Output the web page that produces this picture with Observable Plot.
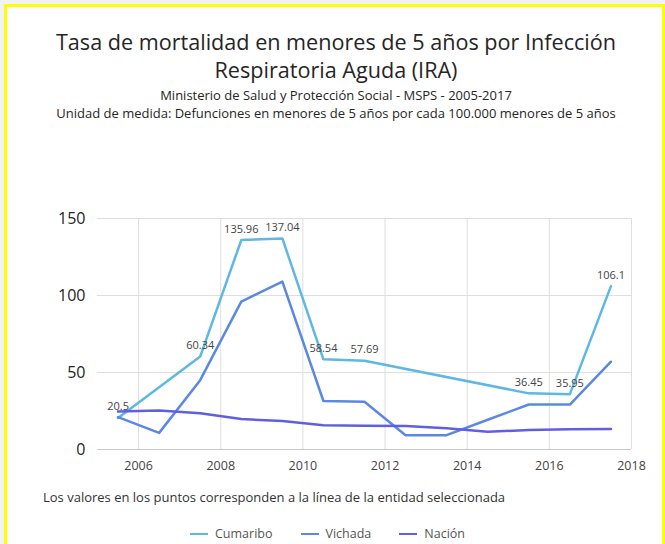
<!DOCTYPE html>
<html>
<head>
<meta charset="utf-8">
<script src="https://cdn.jsdelivr.net/npm/d3@7"></script>
<script src="https://cdn.jsdelivr.net/npm/@observablehq/plot@0.6"></script>
<style>
  html, body { margin: 0; padding: 0; width: 665px; height: 544px; overflow: hidden; background: #f2f2f2; font-family: "Open Sans", "Noto Sans", sans-serif; }
  #frame { position: absolute; left: 4px; top: 4px; width: 661px; height: 600px; box-sizing: border-box; border: 3px solid #ffff00; border-bottom: none; background: #fff; }
  .t { position: absolute; left: 0; width: 672px; text-align: center; color: #252525; white-space: nowrap; }
  #title1 { top: 27px; font-size: 21.6px; }
  #title2 { top: 55px; font-size: 21.6px; }
  #sub1 { top: 86px; font-size: 13px; }
  #sub2 { top: 104px; font-size: 13px; }
  #note { position: absolute; left: 43px; top: 488px; font-size: 13px; color: #333; white-space: nowrap; }
  #legend { position: absolute; left: 0; width: 655px; top: 525px; display: flex; justify-content: center; gap: 28px; font-size: 12.5px; color: #555; }
  #legend .item { display: flex; align-items: center; gap: 7px; }
  #legend .sw { width: 18px; height: 0; border-top: 2.5px solid; }
  #chart { position: absolute; left: 0; top: 190px; }
</style>
</head>
<body>
<div id="frame"></div>
<div class="t" id="title1">Tasa de mortalidad en menores de 5 años por Infección</div>
<div class="t" id="title2">Respiratoria Aguda (IRA)</div>
<div class="t" id="sub1">Ministerio de Salud y Protección Social - MSPS - 2005-2017</div>
<div class="t" id="sub2">Unidad de medida: Defunciones en menores de 5 años por cada 100.000 menores de 5 años</div>
<div id="chart"></div>
<div id="note">Los valores en los puntos corresponden a la línea de la entidad seleccionada</div>
<div id="legend"></div>
<script>
const years = [2005, 2006, 2007, 2008, 2009, 2010, 2011, 2012, 2013, 2014, 2015, 2016, 2017];
const cumaribo = [20.5, null, 60.34, 135.96, 137.04, 58.54, 57.69, null, null, null, 36.45, 35.95, 106.1];
const vichada = [21, 10.8, 45, 96, 109, 31.5, 31, 9.3, 9.3, 19.3, 29.2, 29.2, 57];
const nacion = [24.6, 25.3, 23.5, 19.8, 18.5, 15.8, 15.4, 15.3, 13.8, 11.5, 12.6, 13.2, 13.3];
const seriesNames = ["Cumaribo", "Vichada", "Nación"];
const seriesColors = ["#5fb7e3", "#5b88e2", "#5f5fe0"];
const xTicks = [2006, 2008, 2010, 2012, 2014, 2016, 2018];
const yTicks = [0, 50, 100, 150];

const allSeries = [cumaribo, vichada, nacion];
const rows = [];
allSeries.forEach((vals, si) => {
  years.forEach((yr, i) => {
    if (vals[i] != null) rows.push({serie: seriesNames[si], x: yr + 0.5, y: vals[i]});
  });
});
const labelRows = rows.filter(d => d.serie === "Cumaribo");

const chart = Plot.plot({
  width: 665,
  height: 300,
  marginLeft: 97,
  marginRight: 34,
  marginTop: 28,
  marginBottom: 41,
  style: {fontFamily: "'Open Sans', 'Noto Sans', sans-serif", background: "transparent"},
  x: {domain: [2005, 2018], ticks: xTicks, tickFormat: "d", label: null, tickSize: 0},
  y: {domain: [0, 150], ticks: yTicks, label: null, tickSize: 0},
  color: {domain: seriesNames, range: seriesColors},
  marks: [
    Plot.gridX(xTicks, {stroke: "#dedede", strokeOpacity: 1, strokeWidth: 1}),
    Plot.gridY(yTicks.filter(v => v > 0), {stroke: "#dedede", strokeOpacity: 1, strokeWidth: 1}),
    Plot.ruleY([0], {stroke: "#c8c8c8", strokeWidth: 1}),
    Plot.axisX({ticks: xTicks, tickFormat: "d", tickSize: 0, tickPadding: 12, fontSize: 12.5, fill: "#444"}),
    Plot.axisY({ticks: yTicks, tickSize: 0, tickPadding: 12, fontSize: 16, fill: "#252525"}),
    Plot.line(rows, {x: "x", y: "y", z: "serie", stroke: "serie", strokeWidth: 2.5, curve: "linear"}),
    Plot.text(labelRows, {x: "x", y: "y", text: d => String(d.y), dy: -11, fontSize: 11, fill: "#444"})
  ]
});
document.getElementById("chart").appendChild(chart);

const legend = document.getElementById("legend");
seriesNames.forEach((n, i) => {
  const it = document.createElement("div");
  it.className = "item";
  const sw = document.createElement("span");
  sw.className = "sw";
  sw.style.borderTopColor = seriesColors[i];
  const tx = document.createElement("span");
  tx.textContent = n;
  it.appendChild(sw); it.appendChild(tx);
  legend.appendChild(it);
});
</script>
</body>
</html>
